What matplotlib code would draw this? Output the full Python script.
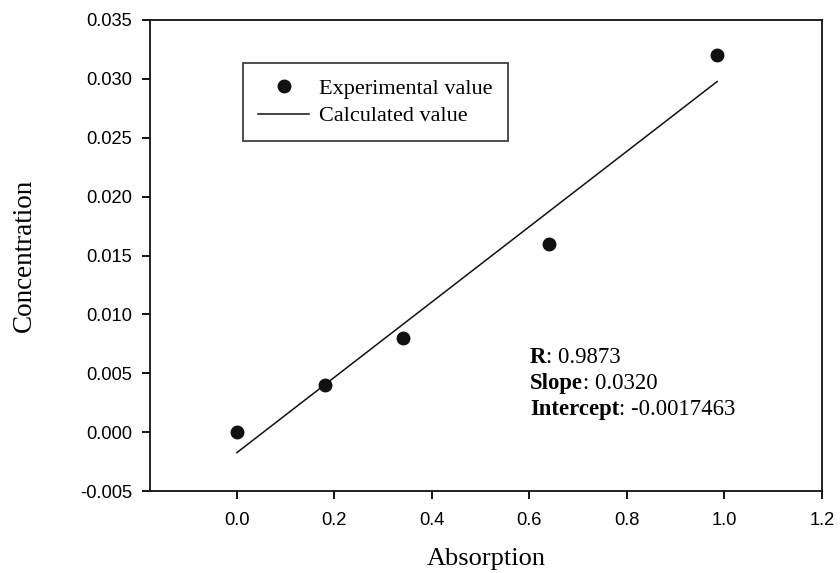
import matplotlib
matplotlib.use("Agg")
import matplotlib.pyplot as plt
import numpy as np

absorption = [0.0, 0.18, 0.34, 0.64, 0.985]
concentration = [0.0, 0.004, 0.008, 0.016, 0.032]
slope = 0.0320
intercept = -0.0017463
r_value = 0.9873
fit_x = [0.0, 0.985]

xticks = [0.0, 0.2, 0.4, 0.6, 0.8, 1.0, 1.2]
yticks = [-0.005, 0.000, 0.005, 0.010, 0.015, 0.020, 0.025, 0.030, 0.035]

serif = "Liberation Serif"
sans = "Liberation Sans"

fig = plt.figure(figsize=(8.4, 5.73), dpi=100)
ax = fig.add_axes([150/840, 1-491/573, (822-150)/840, (491-20)/573])

ax.plot(absorption, concentration, 'o', color='#111111', markersize=9, label='Experimental value', zorder=3)
fx = np.array(fit_x)
ax.plot(fx, slope*fx + intercept, '-', color='#111111', linewidth=1.1, label='Calculated value')

ax.set_xlim(-0.178, 1.2)
ax.set_ylim(-0.005, 0.035)
ax.set_xticks(xticks)
ax.set_xticklabels([f"{v:.1f}" for v in xticks])
ax.set_yticks(yticks)
ax.set_yticklabels([f"{v:.3f}" for v in yticks])
ax.tick_params(direction='out', length=6, width=1.3, labelsize=13.2, pad=7)
ax.tick_params(axis='x', pad=9)
for lab in ax.get_xticklabels() + ax.get_yticklabels():
    lab.set_fontfamily(sans)
for s in ax.spines.values():
    s.set_linewidth(1.3)
    s.set_color('#111111')

ax.set_xlabel('Absorption', fontfamily=serif, fontsize=19, labelpad=14)
ax.set_ylabel('Concentration', fontfamily=serif, fontsize=19.5, labelpad=31)

leg = ax.legend(loc='upper left', bbox_to_anchor=((243-150)/672, 1-(63-20)/471),
                prop={'family': serif, 'size': 16}, frameon=True, fancybox=False,
                edgecolor='#111111', handlelength=2.3, borderpad=0.68, labelspacing=0.32,
                borderaxespad=0, handletextpad=0.45)
leg.get_frame().set_linewidth(1.3)

lines = [("R", f"{r_value:.4f}"), ("Slope", f"{slope:.4f}"), ("Intercept", f"{intercept:.7f}")]
y0 = 363
for i, (b, v) in enumerate(lines):
    yy = 1 - ((y0 + i*26) - 20)/471
    t = ax.text((530-150)/672, yy, b, transform=ax.transAxes, fontfamily=serif,
                fontsize=16.4, fontweight='bold', va='baseline', ha='left')
    fig.canvas.draw()
    bb = t.get_window_extent()
    inv = ax.transAxes.inverted()
    x_end = inv.transform((bb.x1, bb.y0))[0]
    ax.text(x_end, yy, f": {v}", transform=ax.transAxes, fontfamily=serif,
            fontsize=16.4, va='baseline', ha='left')

fig.savefig('out.png', dpi=100)
